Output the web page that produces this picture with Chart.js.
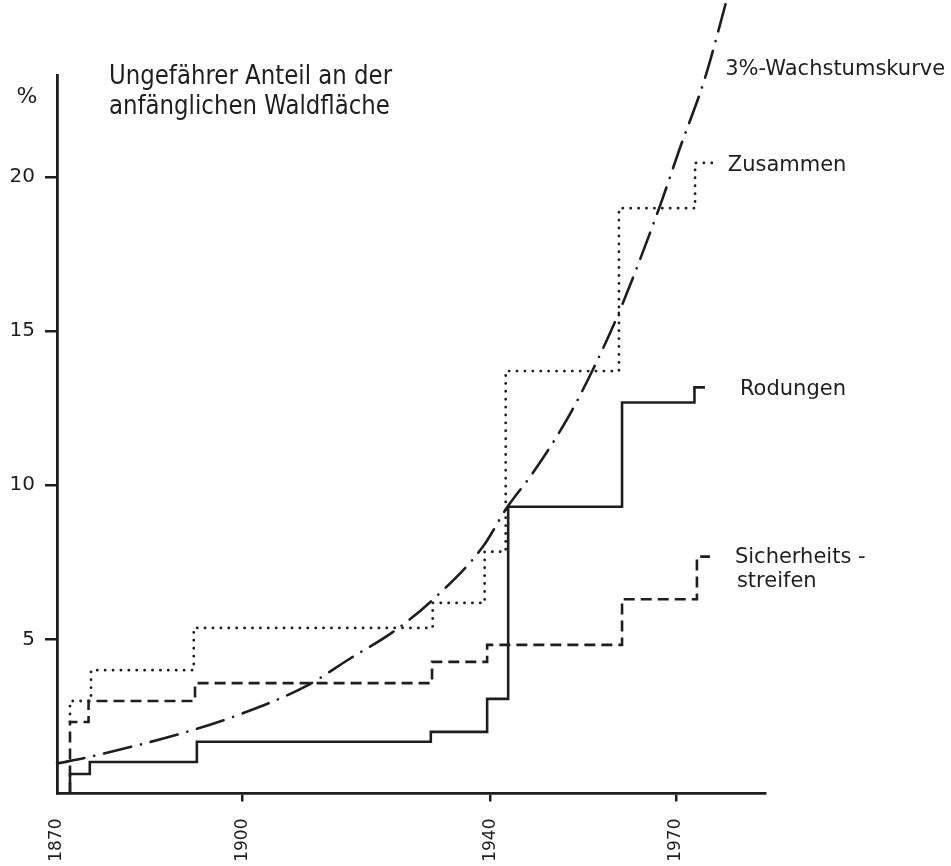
<!DOCTYPE html>
<html>
<head>
<meta charset="utf-8">
<script src="https://cdn.jsdelivr.net/npm/chart.js@4.4.1/dist/chart.umd.min.js"></script>
<style>
  html, body { margin: 0; padding: 0; background: #fff; }
  canvas { display: block; }
</style>
</head>
<body>
<canvas id="chart" width="951" height="866"></canvas>
<script>
// values (years, percent of initial forest area)
const xTickYears = [1870, 1900, 1940, 1970];
const yTickValues = [5, 10, 15, 20];

const rodungenYears  = [1872.1, 1872.1, 1875.3, 1892.6, 1930.4, 1939.5, 1942.9, 1961.3, 1973.0, 1974.7];
const rodungenValues = [0, 0.63, 1.02, 1.68, 2.0, 3.07, 9.3, 12.68, 13.17, 13.17];

const streifenYears  = [1872.1, 1872.1, 1875.1, 1892.3, 1930.6, 1939.5, 1961.3, 1973.4, 1975.5];
const streifenValues = [0, 2.32, 3.0, 3.58, 4.27, 4.82, 6.3, 7.68, 7.68];

const zusammenYears  = [1872.1, 1872.1, 1875.5, 1892.1, 1930.7, 1939.1, 1942.5, 1960.8, 1973.1, 1975.8];
const zusammenValues = [2.32, 3.0, 4.0, 5.37, 6.18, 7.84, 13.7, 18.98, 20.45, 20.45];

const kurveYears  = [1870, 1875.3, 1891.5, 1900, 1910.4, 1917.3, 1924.3, 1930.7, 1938.8, 1942.7, 1946.9, 1952.4, 1956.6, 1960.8, 1967.4, 1970.6, 1974.7, 1978.3];
const kurveValues = [0.97, 1.19, 2.03, 2.6, 3.5, 4.37, 5.24, 6.28, 8.0, 9.27, 10.4, 12.13, 13.75, 15.6, 19.04, 20.9, 23.2, 25.8];

const titleLines = ['Ungefährer Anteil an der', 'anfänglichen Waldfläche'];

const ink = '#1e1e1e';
const font = '"DejaVu Sans", sans-serif';

function pts(xs, ys) {
  return xs.map((x, i) => ({ x: x, y: ys[i] }));
}

// free text: title, unit and the line labels
const notes = {
  id: 'notes',
  afterDraw(chart) {
    const ctx = chart.ctx;
    const area = chart.chartArea;
    const x = chart.scales.x;
    const y = chart.scales.y;
    ctx.save();
    ctx.fillStyle = ink;

    // lettering in the figure is tall and narrow
    ctx.save();
    ctx.font = '26px ' + font;
    ctx.textAlign = 'left';
    ctx.textBaseline = 'alphabetic';
    ctx.translate(area.left + 52, 0);
    ctx.scale(0.88, 1);
    ctx.fillText(titleLines[0], 0, 84);
    ctx.fillText(titleLines[1], 0, 114);
    ctx.restore();

    ctx.font = '22px ' + font;
    ctx.textAlign = 'center';
    ctx.textBaseline = 'middle';
    ctx.fillText('%', 27, 97);

    ctx.font = '21px ' + font;
    ctx.textAlign = 'left';
    const lastX = xs => x.getPixelForValue(xs[xs.length - 1]);
    const lastY = ys => y.getPixelForValue(ys[ys.length - 1]);

    ctx.fillText('3%-Wachstumskurve', lastX(kurveYears) - 2, 70);
    ctx.fillText('Zusammen', lastX(zusammenYears) + 16, lastY(zusammenValues) + 3);
    ctx.fillText('Rodungen', lastX(rodungenYears) + 35, lastY(rodungenValues) + 2);
    ctx.fillText('Sicherheits -', lastX(streifenYears) + 25, lastY(streifenValues) + 1);
    ctx.fillText('streifen', lastX(streifenYears) + 27, lastY(streifenValues) + 25);
    ctx.restore();
  }
};

const ctx = document.getElementById('chart').getContext('2d');
new Chart(ctx, {
  type: 'line',
  data: {
    datasets: [
      {
        label: 'Rodungen',
        data: pts(rodungenYears, rodungenValues),
        stepped: true,
        borderColor: ink,
        borderWidth: 2.6,
        pointRadius: 0,
        fill: false
      },
      {
        label: 'Sicherheitsstreifen',
        data: pts(streifenYears, streifenValues),
        stepped: true,
        borderColor: ink,
        borderWidth: 2.6,
        borderDash: [11, 6],
        pointRadius: 0,
        fill: false
      },
      {
        label: 'Zusammen',
        data: pts(zusammenYears, zusammenValues),
        stepped: true,
        borderColor: ink,
        borderWidth: 2.8,
        borderDash: [0.1, 7.8],
        borderCapStyle: 'round',
        pointRadius: 0,
        fill: false
      },
      {
        label: '3%-Wachstumskurve',
        data: pts(kurveYears, kurveValues),
        borderColor: ink,
        borderWidth: 2.6,
        borderDash: [28, 10, 0.1, 10],
        borderCapStyle: 'round',
        cubicInterpolationMode: 'monotone',
        capBezierPoints: false,
        clip: false,
        pointRadius: 0,
        fill: false
      }
    ]
  },
  options: {
    responsive: false,
    devicePixelRatio: 1,
    animation: false,
    layout: { padding: { left: 0, top: 75, right: 186, bottom: 0 } },
    plugins: {
      legend: { display: false },
      tooltip: { enabled: false }
    },
    scales: {
      x: {
        type: 'linear',
        min: 1870,
        max: 1984.4,
        afterBuildTicks: s => { s.ticks = xTickYears.map(v => ({ value: v })); },
        afterFit: s => { s.height = 72.5; },
        border: { display: true, color: ink, width: 2.8 },
        grid: {
          display: true,
          drawOnChartArea: false,
          drawTicks: true,
          tickLength: 8,
          lineWidth: 2.5,
          color: c => (c.tick && c.tick.value === 1870) ? 'rgba(0,0,0,0)' : ink
        },
        ticks: {
          autoSkip: false,
          minRotation: 90,
          maxRotation: 90,
          padding: 17,
          color: ink,
          font: { family: font, size: 17 },
          callback: v => String(v)
        }
      },
      y: {
        type: 'linear',
        min: 0,
        max: 23.3,
        afterBuildTicks: s => { s.ticks = yTickValues.map(v => ({ value: v })); },
        afterFit: s => { s.width = 57; },
        border: { display: true, color: ink, width: 2.8 },
        grid: {
          display: true,
          drawOnChartArea: false,
          drawTicks: true,
          tickLength: 12,
          lineWidth: 2.5,
          color: ink
        },
        ticks: {
          padding: 10,
          color: ink,
          font: { family: font, size: 20 },
          callback: v => String(v)
        }
      }
    }
  },
  plugins: [notes]
});
</script>
</body>
</html>
